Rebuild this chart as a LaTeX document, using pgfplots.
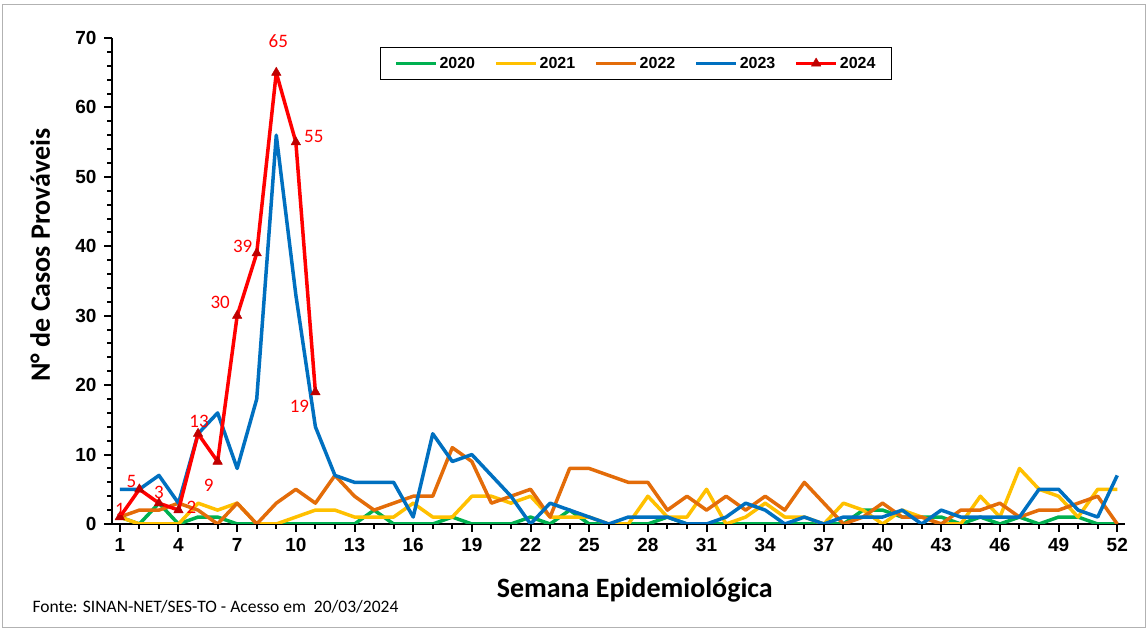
\documentclass[border=0pt]{standalone}
\usepackage{fontspec}
\setmainfont{Carlito}
\newfontfamily\arialf{Liberation Sans}
\usepackage{pgfplots}
\pgfplotsset{compat=1.18}
\usepackage{pgfplotstable}
\definecolor{c20}{HTML}{00B050}
\definecolor{c21}{HTML}{FFC000}
\definecolor{c22}{HTML}{E36C09}
\definecolor{c23}{HTML}{0070C0}
\definecolor{c24}{HTML}{FF0000}
\definecolor{c24m}{HTML}{C00000}
\pgfplotstableread{
w g y o b
1 1 1 1 5
2 0 0 2 5
3 3 0 2 7
4 0 0 3 3
5 1 3 2 13
6 1 2 0 16
7 0 3 3 8
8 0 0 0 18
9 0 0 3 56
10 0 1 5 33
11 0 2 3 14
12 0 2 7 7
13 0 1 4 6
14 2 1 2 6
15 0 1 3 6
16 0 3 4 1
17 0 1 4 13
18 1 1 11 9
19 0 4 9 10
20 0 4 3 7
21 0 3 4 4
22 1 4 5 0
23 0 1 1 3
24 2 1 8 2
25 0 1 8 1
26 0 0 7 0
27 0 0 6 1
28 0 4 6 1
29 1 1 2 1
30 0 1 4 0
31 0 5 2 0
32 0 0 4 1
33 0 1 2 3
34 0 3 4 2
35 0 1 2 0
36 0 1 6 1
37 0 0 3 0
38 0 3 0 1
39 2 2 1 1
40 2 0 3 1
41 1 2 1 2
42 1 1 1 0
43 1 0 0 2
44 0 0 2 1
45 1 4 2 1
46 0 1 3 1
47 1 8 1 1
48 0 5 2 5
49 1 4 2 5
50 1 1 3 2
51 0 5 4 1
52 0 5 0 7
}\dataA
\pgfplotstableread{
w v dx dy
1 1 0 8
2 5 -8 8
3 3 0 11
4 2 13 3
5 13 1 12
6 9 -9 -24
7 30 -17 13
8 39 -14 7
9 65 2 32
10 55 18 6
11 19 -16 -14
}\dataB
\begin{document}
\begin{tikzpicture}[x=1pt,y=1pt]
\useasboundingbox (0,0) rectangle (1147,628);
\draw[gray!60, line width=0.8pt] (2,1) rectangle (1145,624);
\begin{axis}[
 at={(112pt,104pt)}, anchor=south west,
 scale only axis, width=1013pt, height=486pt,
 xmin=0.6, xmax=52.4, ymin=0, ymax=70,
 axis x line=bottom, axis y line=left,
 axis line style={-, line width=2pt},
 xtick={1,4,...,52}, minor x tick num=2,
 ytick={0,10,...,70}, minor y tick num=4,
 tick align=outside, major tick length=8pt, minor tick length=5pt,
 tick style={black, line width=2pt},
 ticklabel style={font=\arialf\bfseries\fontsize{19}{19}\selectfont},
 xticklabel style={yshift=-3pt},
 yticklabel style={xshift=-4pt},
 /pgf/number format/assume math mode=true,
 xlabel={Semana Epidemiológica}, ylabel={N° de Casos Prováveis},
 label style={font=\bfseries\fontsize{28}{28}\selectfont},
 xlabel style={at={(axis description cs:0.516,-0.136)}, anchor=center},
 ylabel style={at={(axis description cs:-0.071,0.553)}, anchor=center},
 legend style={at={(axis description cs:0.517,0.9476)}, anchor=center, draw=black, line width=1pt,
   font=\arialf\bfseries\fontsize{16}{16}\selectfont, legend columns=5,
   /tikz/every even column/.append style={column sep=17pt}, inner xsep=14pt, inner ysep=8pt},
 legend cell align=left,
 legend image code/.code={\draw[mark repeat=2,mark phase=2,#1] plot coordinates {(0pt,0pt) (20pt,0pt) (40pt,0pt)};},
 every axis plot/.append style={line join=round},
]
\addplot[c20, line width=3.5pt, no marks] table[x=w, y=g] \dataA;
\addlegendentry{2020}
\addplot[c21, line width=3.5pt, no marks] table[x=w, y=y] \dataA;
\addlegendentry{2021}
\addplot[c22, line width=3.5pt, no marks] table[x=w, y=o] \dataA;
\addlegendentry{2022}
\addplot[c23, line width=3.5pt, no marks] table[x=w, y=b] \dataA;
\addlegendentry{2023}
\addplot[c24, line width=3.5pt, mark=triangle*, mark size=5.5pt,
  mark options={fill=c24m, draw=c24m, line width=0.5pt},
  nodes near coords, point meta=explicit,
  visualization depends on={\thisrow{dx}\as\dx},
  visualization depends on={\thisrow{dy}\as\dy},
  every node near coord/.append style={anchor=center, xshift=\dx pt, yshift=\dy pt,
     font=\fontsize{19}{19}\selectfont, text=c24}]
  table[x=w, y=v, meta=v] \dataB;
\addlegendentry{2024}
\end{axis}
\node[anchor=west, font=\fontsize{17.5}{17.5}\selectfont] at (29,21) {Fonte: SINAN-NET/SES-TO - Acesso em\ \ 20/03/2024};
\end{tikzpicture}
\end{document}
